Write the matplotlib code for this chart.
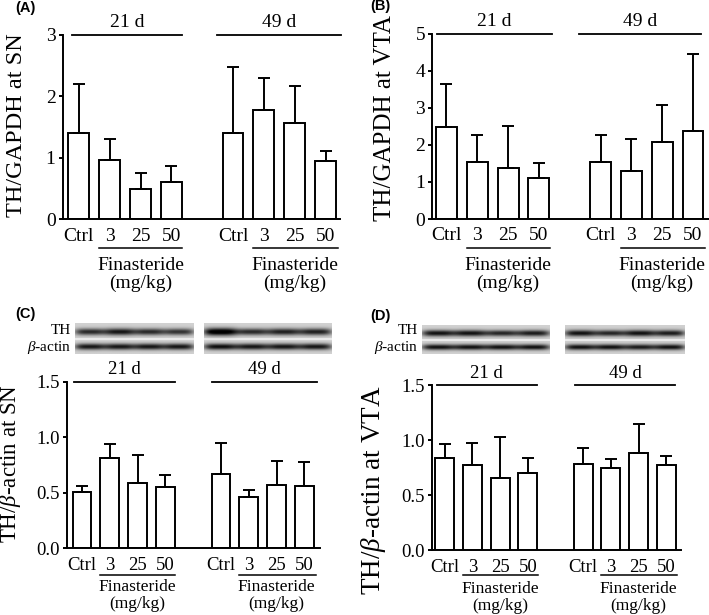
import numpy as np
import matplotlib
matplotlib.use('Agg')
import matplotlib.pyplot as plt
import matplotlib.transforms as mtransforms

plt.rcParams['font.family'] = 'Liberation Serif'
plt.rcParams['mathtext.fontset'] = 'custom'
plt.rcParams['mathtext.rm'] = 'Liberation Serif'
plt.rcParams['mathtext.it'] = 'Liberation Serif:italic'

# bar positions: 21 d group then 49 d group
groups = ['21 d', '49 d']
doses = ['Ctrl', '3', '25', '50']
xpos = [0, 1, 2, 3, 5, 6, 7, 8]

# (A) TH/GAPDH at SN
a_mean = [1.40, 0.97, 0.49, 0.61, 1.41, 1.78, 1.57, 0.95]
a_sd = [0.80, 0.33, 0.27, 0.26, 1.06, 0.52, 0.60, 0.16]
# (B) TH/GAPDH at VTA
b_mean = [2.49, 1.55, 1.39, 1.10, 1.55, 1.31, 2.09, 2.38]
b_sd = [1.15, 0.73, 1.13, 0.42, 0.71, 0.85, 0.99, 2.08]
# (C) TH/beta-actin at SN
c_mean = [0.51, 0.81, 0.59, 0.55, 0.67, 0.465, 0.567, 0.558]
c_sd = [0.05, 0.13, 0.25, 0.11, 0.28, 0.06, 0.22, 0.22]
# (D) TH/beta-actin at VTA
d_mean = [0.836, 0.778, 0.655, 0.70, 0.78, 0.745, 0.887, 0.778]
d_sd = [0.13, 0.20, 0.375, 0.14, 0.145, 0.085, 0.26, 0.08]

W, H = 709, 615
fig = plt.figure(figsize=(W / 100, H / 100), dpi=100)


def px_rect(l, t, r, b):
    return [l / W, 1 - b / H, (r - l) / W, (b - t) / H]


def panel(rect, mean, sd, xlim, ylim, yticks, ytl, fs, top_lines, under_off, ufs):
    ax = fig.add_axes(px_rect(*rect))
    ax.bar(xpos, mean, width=0.68, color='white', edgecolor='black', linewidth=1.4)
    ax.errorbar(xpos, mean, yerr=[np.zeros(len(sd)), sd], fmt='none', ecolor='black',
                elinewidth=1.4, capsize=4.2, capthick=1.4)
    ax.set_xlim(*xlim)
    ax.set_ylim(*ylim)
    ax.set_yticks(yticks)
    ax.set_yticklabels(ytl, fontsize=fs)
    ax.set_xticks(xpos)
    ax.set_xticklabels(doses * 2, fontsize=fs)
    ax.tick_params(axis='x', length=0, pad=6)
    ax.tick_params(axis='y', length=3, width=1.4, pad=2)
    for s in ['top', 'right']:
        ax.spines[s].set_visible(False)
    for s in ['left', 'bottom']:
        ax.spines[s].set_linewidth(1.4)

    trans = mtransforms.blended_transform_factory(ax.transData, ax.transAxes)
    # group lines above
    for (x0, x1), g in zip(top_lines, groups):
        ax.plot([x0, x1], [1, 1], color='black', lw=1.3, transform=trans, clip_on=False)
        t = mtransforms.offset_copy(trans, fig=fig, y=12, units='dots')
        ax.text((x0 + x1) / 2, 1, g, transform=t, ha='center', va='center', fontsize=fs)
    # finasteride underline and label
    uo, fo, mo = under_off
    for x0, x1, xc in [(0.66, 3.35, 2.0), (5.66, 8.4, 7.0)]:
        t = mtransforms.offset_copy(trans, fig=fig, y=-uo, units='dots')
        ax.plot([x0, x1], [0, 0], color='black', lw=1.1, transform=t, clip_on=False)
        t = mtransforms.offset_copy(trans, fig=fig, y=-fo, units='dots')
        ax.text(xc, 0, 'Finasteride', transform=t, ha='center', va='center', fontsize=ufs)
        t = mtransforms.offset_copy(trans, fig=fig, y=-mo, units='dots')
        ax.text(xc, 0, '(mg/kg)', transform=t, ha='center', va='center', fontsize=ufs)
    return ax


panel((62.5, 34.7, 340, 219.3), a_mean, a_sd, (-0.53, 8.47), (0, 3), [0, 1, 2, 3],
      ['0', '1', '2', '3'], 14, [(-0.23, 3.35), (4.48, 8.5)], (29, 46, 64), 14)
panel((432, 34, 709, 219), b_mean, b_sd, (-0.47, 8.52), (0, 5), [0, 1, 2, 3, 4, 5],
      ['0', '1', '2', '3', '4', '5'], 14, [(-0.31, 3.43), (4.3, 8.26)], (29, 46, 64), 14)
ct = [0, 0.5, 1.0, 1.5]
ctl = ['0.0', '0.5', '1.0', '1.5']
panel((67, 381.7, 320, 548.3), c_mean, c_sd, (-0.54, 8.56), (0, 1.5), ct, ctl, 13.5,
      [(-0.28, 3.35), (4.67, 8.44)], (27, 39, 56), 12.5)
panel((431.7, 385, 680.7, 550.3), d_mean, d_sd, (-0.47, 8.52), (0, 1.5), ct, ctl, 13.5,
      [(-0.29, 3.32), (4.7, 8.31)], (25, 39, 56), 12.5)


# y labels
def ylab(x, y, s, fs):
    fig.text(x / W, 1 - y / H, s, rotation=90, ha='center', va='center', fontsize=fs)


ylab(17, 125, 'TH/GAPDH at SN', 17.5)
ylab(385, 118, 'TH/GAPDH at VTA', 18)
ylab(11, 463, r'TH/$\beta$-actin at SN', 16.5)
ylab(374, 490, r'TH/$\beta$-actin at VTA', 19.5)

# panel letters
for x, y, s in [(15, 8, '(A)'), (370, 6, '(B)'), (15, 314, '(C)'), (370, 316, '(D)')]:
    fig.text(x / W, 1 - y / H, s, ha='left', va='center', fontsize=10.5,
             fontweight='bold', family='Liberation Sans')


# western blot strips (decorative image)
def blot(l, t, r, b, th, act):
    ax = fig.add_axes(px_rect(l, t, r, b))
    ny, nx = 30, 128
    yy = np.linspace(0, 1, ny)[:, None]
    xx = np.linspace(0, 1, nx)[None, :]
    img = np.full((ny, nx), 0.82)
    img[np.abs(yy[:, 0] - 0.53) < 0.04, :] = 0.93
    for i in range(4):
        c = (i + 0.5) / 4
        lane = np.exp(-((xx - c) / 0.13) ** 4)
        img -= 0.75 * th[i] * lane * np.exp(-((yy - 0.3) / (0.07 + 0.04 * th[i])) ** 2)
        img -= 0.75 * act[i] * lane * np.exp(-((yy - 0.78) / 0.1) ** 2)
    ax.imshow(np.clip(img, 0, 1), cmap='gray', vmin=0, vmax=1, aspect='auto',
              interpolation='bilinear')
    ax.axis('off')


blot(75, 323, 193, 354, [0.9, 1.0, 0.9, 0.85], [1.0, 1.0, 1.0, 1.0])
blot(204, 323, 332, 354, [1.25, 0.9, 0.95, 0.95], [1.05, 1.0, 1.0, 1.0])
blot(422, 325, 550, 354, [1.0, 1.0, 0.9, 0.95], [1.0, 1.0, 1.0, 1.0])
blot(565, 325, 685, 354, [1.0, 0.9, 1.0, 0.95], [1.0, 1.0, 0.95, 1.0])

for x, y1, y2 in [(71, 331, 348), (418, 330, 347)]:
    fig.text(x / W, 1 - y1 / H, 'TH', ha='right', va='center', fontsize=11)
    fig.text(x / W, 1 - y2 / H, r'$\beta$-actin', ha='right', va='center', fontsize=11)

fig.savefig('out.png', dpi=100)
